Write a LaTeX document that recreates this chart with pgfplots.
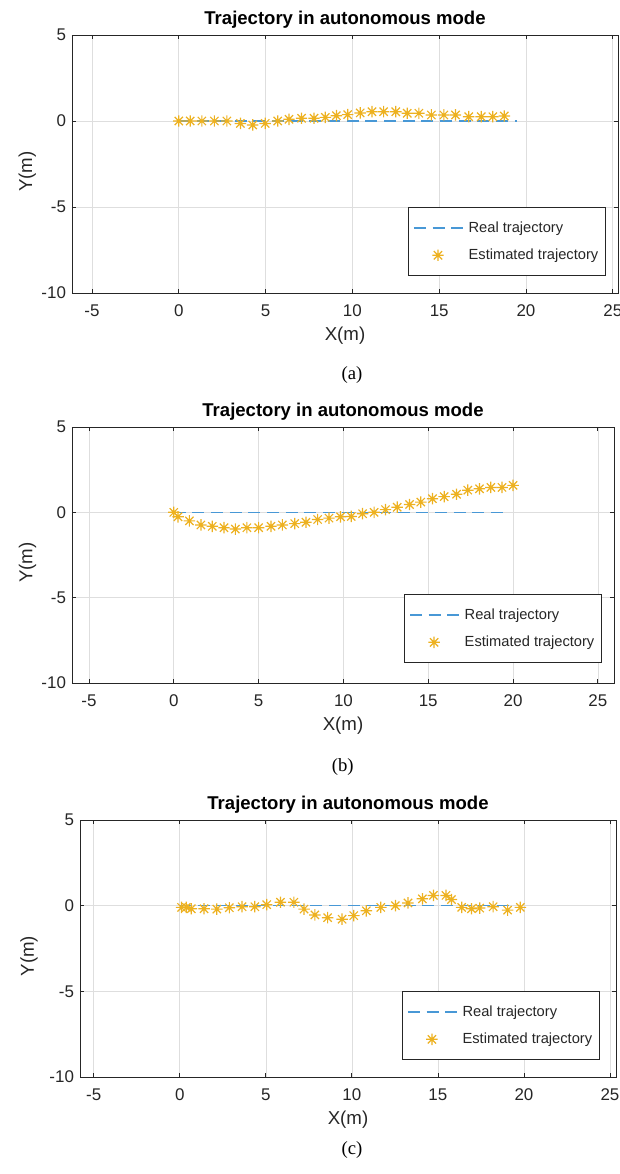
\documentclass[border=0pt]{standalone}
\usepackage{pgfplots}
\pgfplotsset{compat=1.18}
\usepackage{fontspec}
\setmainfont{Liberation Sans}
\newfontfamily\capfont{Liberation Serif}
\definecolor{mblue}{RGB}{72,152,214}
\definecolor{morange}{RGB}{237,177,32}
\definecolor{mgrid}{RGB}{222,222,222}
\definecolor{maxis}{RGB}{38,38,38}
\pgfdeclareplotmark{mstar}{%
 \pgfpathmoveto{\pgfqpoint{-\pgfplotmarksize}{0pt}}\pgfpathlineto{\pgfqpoint{\pgfplotmarksize}{0pt}}%
 \pgfpathmoveto{\pgfqpoint{0pt}{-\pgfplotmarksize}}\pgfpathlineto{\pgfqpoint{0pt}{\pgfplotmarksize}}%
 \pgfpathmoveto{\pgfqpoint{-0.72\pgfplotmarksize}{-0.72\pgfplotmarksize}}\pgfpathlineto{\pgfqpoint{0.72\pgfplotmarksize}{0.72\pgfplotmarksize}}%
 \pgfpathmoveto{\pgfqpoint{-0.72\pgfplotmarksize}{0.72\pgfplotmarksize}}\pgfpathlineto{\pgfqpoint{0.72\pgfplotmarksize}{-0.72\pgfplotmarksize}}%
 \pgfusepathqstroke}
\pgfplotsset{
 every axis title shift=0pt,
 mpanel/.style={
  scale only axis,
  anchor=south west,
  ymin=-10, ymax=5,
  xtick={-5,0,5,10,15,20,25},
  ytick={-10,-5,0,5},
  grid=major,
  grid style={mgrid, line width=0.5pt},
  tick align=inside,
  major tick length=3pt,
  axis line style={maxis, line width=0.6pt},
  tick style={maxis, line width=0.6pt},
  ticklabel style={font=\fontsize{12.7}{14}\selectfont, text=maxis},
  /pgf/number format/assume math mode=true,
  xticklabel style={yshift=-5.5pt},
  yticklabel style={xshift=-1pt},
  title={\textbf{Trajectory in autonomous mode}},
  title style={font=\fontsize{13.9}{16}\selectfont, anchor=center, at={(axis description cs:0.5,1.06)}},
  xlabel={X(m)}, ylabel={Y(m)},
  label style={font=\fontsize{14}{16}\selectfont, text=maxis},
  xlabel style={anchor=center, at={(axis description cs:0.5,-0.166)}},
  legend style={draw=black!85, line width=0.6pt, fill=white, font=\fontsize{11}{13}\selectfont,
    legend cell align=left, inner xsep=3.5pt, inner ysep=8.5pt, row sep=7pt, text=black!85,
    /tikz/every even column/.append style={column sep=0pt}},
 },
 realline/.style={mblue, line width=1.1pt, dash pattern=on 9pt off 5pt, no markers,
   legend image code/.code={\draw[mblue, line width=1.1pt, dash pattern=on 9pt off 5pt] (0pt,0pt) -- (37.5pt,0pt);}},
 estmarks/.style={morange, only marks, mark=mstar, mark size=4.3pt, line width=0.9pt,
   legend image code/.code={\draw[morange, line width=0.9pt] plot[mark=mstar, mark size=4.3pt] coordinates {(18pt,0pt)}; \path[draw=none] (0pt,0pt) -- (39pt,0pt);}},
}
\begin{document}
\begin{tikzpicture}
\useasboundingbox (0pt,0pt) rectangle (464.25pt,-880.5pt);
% ---------- (a)
\begin{axis}[mpanel, at={(54pt,-219.75pt)}, width=409.5pt, height=193.5pt,
  xmin=-6.15, xmax=25.3,
  ylabel style={anchor=center, at={(axis description cs:-0.082,0.47)}},
  legend style={at={(axis description cs:0.978,0.066)}, anchor=south east}]
\addplot[realline] coordinates {(0,0) (19.5,0)};
\addlegendentry{Real trajectory}
\addplot[estmarks] coordinates {
(0,0) (0.66,0) (1.33,0) (2.05,0) (2.77,0) (3.55,-0.14) (4.26,-0.23) (4.98,-0.14)
(5.70,0) (6.35,0.1) (7.07,0.16) (7.79,0.16) (8.44,0.21) (9.08,0.31) (9.73,0.37)
(10.45,0.47) (11.13,0.54) (11.80,0.54) (12.5,0.54) (13.16,0.45) (13.83,0.45)
(14.55,0.35) (15.27,0.35) (15.94,0.35) (16.70,0.25) (17.42,0.25) (18.09,0.25) (18.75,0.29)};
\addlegendentry{Estimated trajectory}
\end{axis}
\node[font=\capfont\fontsize{14}{16}\selectfont] at (264pt,-281.25pt) {(a)};
% ---------- (b)
\begin{axis}[mpanel, at={(54pt,-512.25pt)}, width=406.5pt, height=192pt,
  xmin=-6, xmax=25.95,
  ylabel style={anchor=center, at={(axis description cs:-0.082,0.47)}},
  legend style={at={(axis description cs:0.978,0.078)}, anchor=south east}]
\addplot[realline] coordinates {(0,0) (19.5,0)};
\addlegendentry{Real trajectory}
\addplot[estmarks] coordinates {
(0,0) (0.25,-0.26) (0.92,-0.5) (1.60,-0.74) (2.27,-0.82) (2.96,-0.9) (3.63,-0.98)
(4.31,-0.9) (5.0,-0.9) (5.73,-0.82) (6.40,-0.74) (7.13,-0.66) (7.79,-0.58) (8.48,-0.42)
(9.15,-0.34) (9.83,-0.26) (10.46,-0.24) (11.13,-0.08) (11.81,0) (12.48,0.16) (13.17,0.3)
(13.90,0.46) (14.56,0.6) (15.25,0.8) (15.94,0.92) (16.67,1.06) (17.33,1.3) (18.02,1.38)
(18.69,1.46) (19.35,1.46) (20.0,1.58)};
\addlegendentry{Estimated trajectory}
\end{axis}
\node[font=\capfont\fontsize{14}{16}\selectfont] at (257pt,-575.25pt) {(b)};
% ---------- (c)
\begin{axis}[mpanel, at={(60pt,-807.75pt)}, width=402pt, height=192.75pt,
  xmin=-5.8, xmax=25.35,
  ylabel style={anchor=center, at={(axis description cs:-0.095,0.47)}},
  legend style={at={(axis description cs:0.97,0.066)}, anchor=south east}]
\addplot[realline] coordinates {(0,0) (19.5,0)};
\addlegendentry{Real trajectory}
\addplot[estmarks] coordinates {
(0.1,-0.1) (0.38,-0.1) (0.67,-0.18) (1.41,-0.18) (2.15,-0.2) (2.88,-0.12) (3.62,-0.06)
(4.36,-0.06) (5.05,0.06) (5.85,0.2) (6.63,0.2) (7.22,-0.2) (7.85,-0.54) (8.59,-0.7)
(9.43,-0.79) (10.11,-0.58) (10.84,-0.3) (11.68,-0.1) (12.53,0) (13.26,0.16) (14.1,0.4)
(14.74,0.6) (15.47,0.6) (15.79,0.36) (16.38,-0.1) (16.95,-0.18) (17.43,-0.14)
(18.21,-0.06) (19.05,-0.26) (19.79,-0.1)};
\addlegendentry{Estimated trajectory}
\end{axis}
\node[font=\capfont\fontsize{14}{16}\selectfont] at (264pt,-862.5pt) {(c)};
\end{tikzpicture}
\end{document}
